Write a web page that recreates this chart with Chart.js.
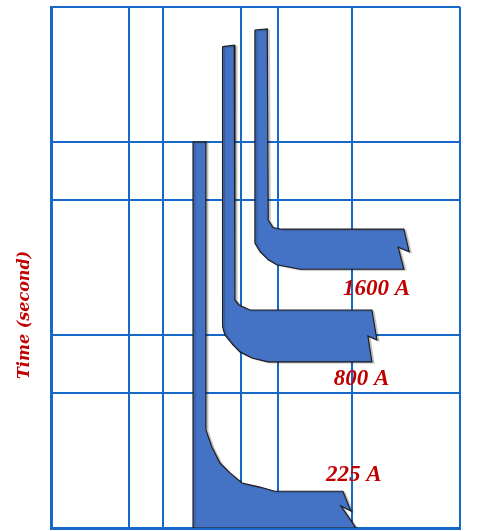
<!DOCTYPE html>
<html>
<head>
<meta charset="utf-8">
<script src="https://cdn.jsdelivr.net/npm/chart.js@4.4.1/dist/chart.umd.min.js"></script>
<style>
  html, body { margin: 0; padding: 0; background: #fff; }
</style>
</head>
<body>
<canvas id="myChart" width="492" height="531"></canvas>
<script>
// grid lines of the log-log sheet (no tick labels shown)
const currentTicks = [1, 5, 10, 50, 108, 500, 4600];
const timeTicks = [0.1, 0.5, 1, 5, 10, 50];

const bandNames = ["225 A", "800 A", "1600 A"];
const axisName = "Time (second)";

// trip bands, outline walked clockwise: current (x) and time in seconds (y)
const current225 = [18.7, 24.4, 24.4, 27.6, 32.6, 40.0, 51.3, 74.3, 101, 411, 485, 395, 538, 18.7];
const time225 = [10, 10, 0.322, 0.263, 0.217, 0.193, 0.171, 0.163, 0.155, 0.155, 0.1225, 0.13, 0.1, 0.1];

const current800 = [34.4, 43.75, 44.4, 48.2, 60.5, 748, 829, 689, 748, 87.6, 63.0, 49.2, 42.6, 36.1, 34.4];
const time800 = [31.2, 31.7, 1.518, 1.43, 1.347, 1.347, 0.942, 0.988, 0.725, 0.725, 0.76, 0.817, 0.888, 1.0, 1.104];

const current1600 = [67.0, 86.4, 88.2, 97.2, 116.3, 1446, 1613, 1286, 1446, 169.5, 104.9, 88.2, 74.3, 67.0];
const time1600 = [38.0, 38.5, 3.94, 3.6, 3.53, 3.53, 2.7, 2.85, 2.19, 2.19, 2.31, 2.45, 2.7, 2.99];

const gridBlue = "#1769c9";
const labelRed = "#c00000";

function band(xs, ys) {
  const pts = xs.map((v, i) => ({ x: v, y: ys[i] }));
  pts.push(pts[0]); // close the outline
  return {
    data: pts,
    showLine: true,
    fill: "shape",
    backgroundColor: "#4472c4",
    borderColor: "#1c1c1c",
    borderWidth: 1.2,
    pointRadius: 0,
    tension: 0,
  };
}

// soft grey drop shadow under the bands, then the red names + axis title
const bandLabels = {
  id: "bandLabels",
  beforeDatasetsDraw(chart) {
    const ctx = chart.ctx;
    ctx.save();
    ctx.shadowColor = "rgba(0, 0, 0, 0.2)";
    ctx.shadowOffsetX = 2;
    ctx.shadowOffsetY = 1;
    ctx.shadowBlur = 1;
  },
  afterDatasetsDraw(chart, args, opts) {
    const { ctx, scales: { x, y } } = chart;
    ctx.restore();
    ctx.save();
    ctx.font = "italic bold 23px 'Liberation Serif'";
    ctx.fillStyle = labelRed;
    ctx.textAlign = "center";
    ctx.textBaseline = "middle";
    opts.spots.forEach((s, i) => {
      ctx.fillText(bandNames[i], x.getPixelForValue(s[0]), y.getPixelForValue(s[1]));
    });
    // axis title sits a little below the middle of the axis
    ctx.translate(25, y.getPixelForValue(opts.titleAt));
    ctx.rotate(-Math.PI / 2);
    ctx.font = "italic bold 16px 'DejaVu Serif'";
    ctx.fillText(axisName, 0, 0);
    ctx.restore();
  },
};

const config = {
  type: "scatter",
  data: {
    datasets: [band(current225, time225), band(current800, time800), band(current1600, time1600)],
  },
  options: {
    responsive: false,
    animation: false,
    layout: { padding: { top: 7, right: 32, bottom: 3, left: 51 } },
    plugins: {
      legend: { display: false },
      tooltip: { enabled: false },
      bandLabels: { spots: [[516, 0.189], [605, 0.592], [824, 1.73]], titleAt: 1.27 },
    },
    scales: {
      x: {
        type: "logarithmic",
        min: 1,
        max: 4600,
        z: 1,
        afterBuildTicks: (axis) => { axis.ticks = currentTicks.map((v) => ({ value: v })); },
        ticks: { display: false },
        grid: { color: gridBlue, lineWidth: 2, drawTicks: false },
        border: { color: gridBlue, width: 3 },
      },
      y: {
        type: "logarithmic",
        min: 0.1,
        max: 50,
        z: 1,
        afterBuildTicks: (axis) => { axis.ticks = timeTicks.map((v) => ({ value: v })); },
        ticks: { display: false },
        grid: { color: gridBlue, lineWidth: 2, drawTicks: false },
        border: { color: gridBlue, width: 3 },
      },
    },
  },
  plugins: [bandLabels],
};

const myChart = new Chart(document.getElementById("myChart"), config);
</script>
</body>
</html>
